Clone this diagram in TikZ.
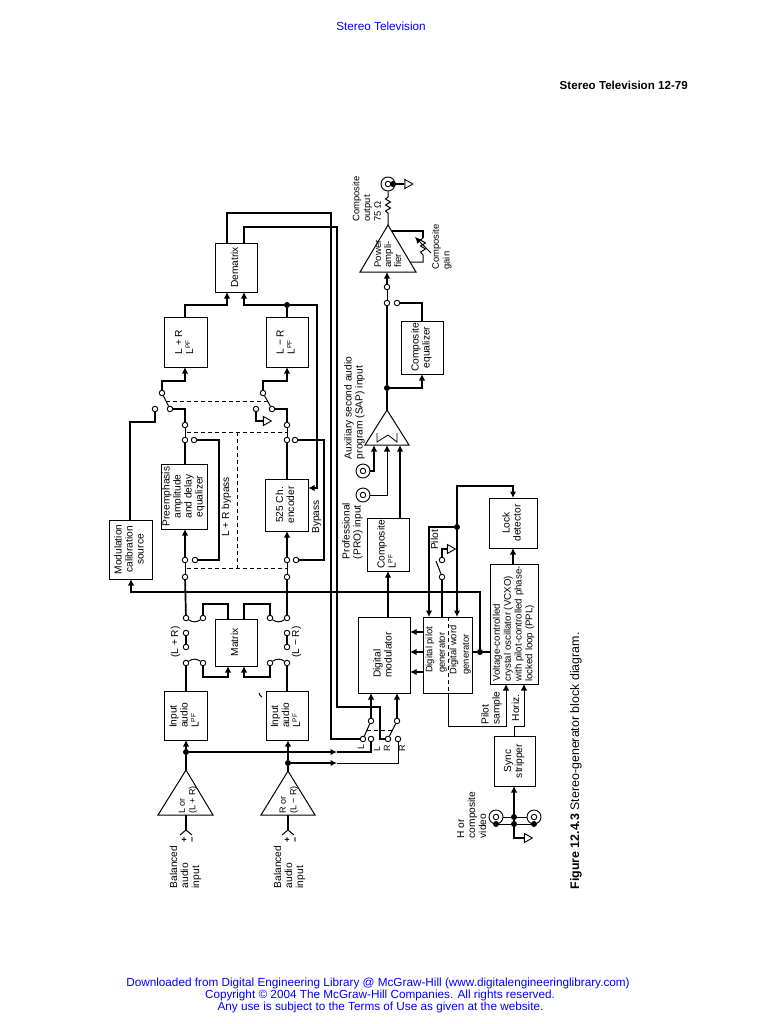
\documentclass[tikz,border=0pt]{standalone}
\usepackage{fontspec}
\usepackage{graphicx}
\setmainfont{Liberation Sans}
\usetikzlibrary{arrows.meta,shapes.geometric}
\definecolor{linkblue}{RGB}{0,0,255}
\newcommand{\rtc}[1]{\rotatebox{90}{\begin{tabular}{@{}c@{}}#1\end{tabular}}}
\newcommand{\rtl}[1]{\rotatebox{90}{\begin{tabular}{@{}l@{}}#1\end{tabular}}}
\newcommand{\lpf}{L\raisebox{3pt}{\fontsize{6.5}{6.5}\selectfont PF}}
\tikzset{
  wire/.style={line width=1.7pt,line join=miter},
  fine/.style={line width=1pt},
  head/.style={-{Latex[length=6.5pt,width=6.5pt]}},
  dashl/.style={line width=.8pt,dash pattern=on 4pt off 3pt},
  boxn/.style={draw,line width=1pt,inner sep=0pt,fill=white,font=\fontsize{10.2}{11}\selectfont},
  lab/.style={inner sep=0pt,font=\fontsize{10.2}{11}\selectfont},
  cc/.style={circle,draw,fill=white,line width=.9pt,inner sep=0pt,minimum size=5.5pt},
  dt/.style={circle,fill=black,inner sep=0pt,minimum size=6pt},
  coax/.style={circle,draw,fill=white,line width=.9pt,inner sep=0pt,minimum size=14pt},
  gnd/.style={isosceles triangle,isosceles triangle stretches=true,draw,fill=white,line width=.9pt,inner sep=0pt,minimum width=9pt,minimum height=8pt},
  amp/.style={line width=1pt,fill=white,line join=miter},
  page/.style={inner sep=0pt,text=linkblue,font=\fontsize{11.75}{12}\selectfont},
}
\begin{document}
\begin{tikzpicture}[x=1pt,y=-1pt]
\useasboundingbox[fill=white] (0,0) rectangle (759,1024);
% page furniture
\node[page] (hdr) at (381,26) {Stereo Television};
\node[inner sep=0pt,anchor=east,font=\fontsize{11.6}{12}\selectfont\bfseries] (pg) at (688,85) {Stereo Television 12-79};
\node[page] (f1) at (378,983) {Downloaded from Digital Engineering Library @ McGraw-Hill (www.digitalengineeringlibrary.com)};
\node[page] (f2) at (380,995) {Copyright © 2004 The McGraw-Hill Companies. All rights reserved.};
\node[page] (f3) at (380.5,1007) {Any use is subject to the Terms of Use as given at the website.};
\node[inner sep=0pt,font=\fontsize{12.4}{13}\selectfont] (cap) at (576,761) {\rotatebox{90}{\textbf{Figure 12.4.3} Stereo-generator block diagram.}};

% boxes
\node[boxn,minimum width=42pt,minimum height=49pt] (dem) at (236,267.5) {\rtc{Dematrix}};
\node[boxn,minimum width=43pt,minimum height=50pt] (lp) at (185.5,342) {\rtl{L + R\\\lpf}};
\node[boxn,minimum width=42pt,minimum height=50pt] (lm) at (287,342) {\rtl{L − R\\\lpf}};
\node[boxn,minimum width=43pt,minimum height=59pt] (mod) at (130.5,549.5) {\rtc{Modulation\\calibration\\source}};
\node[boxn,minimum width=46pt,minimum height=65pt] (pre) at (184,496.5) {\rtc{Preemphasis\\amplitude\\and delay\\equalizer}};
\node[boxn,minimum width=43pt,minimum height=52pt] (enc) at (286.5,505) {\rtc{525 Ch.\\encoder}};
\node[boxn,minimum width=42pt,minimum height=47pt] (mat) at (236,642.5) {\rtc{Matrix}};
\node[boxn,minimum width=43pt,minimum height=49pt] (in1) at (185.5,715.5) {\rtl{Input\\audio\\\lpf}};
\node[boxn,minimum width=42pt,minimum height=49pt] (in2) at (287,715.5) {\rtl{Input\\audio\\\lpf}};
\node[boxn,minimum width=42pt,minimum height=53pt] (eq) at (422,347.5) {\rtc{Composite\\equalizer}};
\node[boxn,minimum width=42pt,minimum height=53pt] (comp) at (388,544.5) {\rtl{Composite\\\lpf}};
\node[boxn,minimum width=52pt,minimum height=76pt] (dmod) at (384,655) {\rtl{Digital\\modulator}};
\node[boxn,minimum width=49pt,minimum height=76pt] (pil) at (447.5,655) {};
\node[boxn,font=\fontsize{9.7}{10.8}\selectfont,minimum width=48pt,minimum height=120pt] (vcxo) at (514,624) {\rtl{Voltage-controlled\\crystal oscillator (VCXO)\\with pilot-controlled phase-\\locked loop (PPL)}};
\node[boxn,minimum width=48pt,minimum height=50pt] (lock) at (513,523) {\rtc{Lock\\detector}};
\node[boxn,minimum width=41pt,minimum height=50pt] (sync) at (514.5,761) {\rtc{Sync\\stripper}};
\node[lab,font=\fontsize{9.4}{12.5}\selectfont] (t1) at (436,650) {\rtl{Digital pilot\\generator}};
\node[lab,font=\fontsize{9.4}{12.5}\selectfont] (t2) at (460,650) {\rtl{Digital word\\generator}};
\coordinate (pd1) at (448,617); \coordinate (pd2) at (448,693);
\draw[dashl] (pd1) -- (pd2);

% amplifier triangles
\coordinate (a1) at (186,770); \coordinate (a2) at (288,771); \coordinate (a3) at (387,410); \coordinate (a4) at (388,225);
\draw[amp] (a1) -- (158,815) -- (213,815) -- cycle;
\draw[amp] (a2) -- (261,815) -- (315,815) -- cycle;
\draw[amp] (a3) -- (365,445) -- (409,445) -- cycle;
\draw[amp] (a4) -- (360,272) -- (416,272) -- cycle;
\draw[line width=.8pt] (377,433) -- (377,442) -- (388,435) -- (397,442) -- (397,433);
\node[lab,font=\fontsize{9}{10.5}\selectfont] (t3) at (188,800) {\rtl{L or\\(L + R)}};
\node[lab,font=\fontsize{9}{10.5}\selectfont] (t4) at (289,800) {\rtl{R or\\(L − R)}};
\node[lab,font=\fontsize{9.6}{10}\selectfont] (t5) at (389,254) {\rtl{Power\\ampli-\\fier}};

% contacts
\node[cc] (c1) at (162,393) {}; \node[cc] (c2) at (155,409) {}; \node[cc] (c3) at (170,409) {};
\node[cc] (c4) at (185,425) {}; \node[cc] (c5) at (263,393) {}; \node[cc] (c6) at (256,409) {};
\node[cc] (c7) at (272,409) {}; \node[cc] (c8) at (287,425) {}; \node[cc] (c9) at (185,440) {};
\node[cc] (c10) at (194,440) {}; \node[cc] (c11) at (195,560) {}; \node[cc] (c12) at (185,560) {};
\node[cc] (c13) at (185,577) {}; \node[cc] (c14) at (186,618) {}; \node[cc] (c15) at (203,618) {};
\node[cc] (c16) at (270,618) {}; \node[cc] (c17) at (287,618) {}; \node[cc] (c18) at (287,577) {};
\node[cc] (c19) at (287,560) {}; \node[cc] (c20) at (296,560) {}; \node[cc] (c21) at (295,440) {};
\node[cc] (c22) at (287,440) {}; \node[cc] (c23) at (186,633) {}; \node[cc] (c24) at (186,647) {};
\node[cc] (c25) at (287,633) {}; \node[cc] (c26) at (287,647) {}; \node[cc] (c27) at (186,663) {};
\node[cc] (c28) at (203,663) {}; \node[cc] (c29) at (270,663) {}; \node[cc] (c30) at (287,663) {};
\node[cc] (sa) at (363,739) {}; \node[cc] (sb) at (371,739) {}; \node[cc] (sc) at (371,721) {};
\node[cc] (sd) at (388,739) {}; \node[cc] (se) at (398,739) {}; \node[cc] (sf) at (397,721) {};
\node[cc] (pa) at (442,577) {}; \node[cc] (pb) at (442,560) {};
\node[cc] (oa) at (387,303) {}; \node[cc] (ob) at (397,303) {}; \node[cc] (oc) at (387,287) {};

% dots
\node[dt] (d1) at (287,305) {}; \node[dt] (d2) at (186,752) {}; \node[dt] (d3) at (288,763) {};
\node[dt] (d4) at (480,652) {}; \node[dt] (d5) at (457,527) {}; \node[dt] (d6) at (387,388) {};
\node[dt] (d7) at (514,817) {}; \node[dt] (d8) at (514,824) {};

% grounds
\node[gnd] (g1) at (266,421) {}; \node[gnd] (g2) at (450,549) {};
\node[gnd] (g3) at (407.5,184) {}; \node[gnd] (g4) at (527,838) {};

% coax connectors
\node[coax] (k1) at (363,471) {}; \node[cc] (k1i) at (363,471) {};
\node[coax] (k2) at (363,495) {}; \node[cc] (k2i) at (363,495) {};
\node[coax] (k3) at (388,184) {}; \node[cc] (k3i) at (388,184) {};
\node[coax] (k4) at (496,817) {}; \node[cc] (k4i) at (496,817) {};
\node[coax] (k5) at (534,817) {}; \node[cc] (k5i) at (534,817) {};
\node[dt] (d9) at (393,184) {}; \node[dt] (d10) at (496,824) {}; \node[dt] (d11) at (534,824) {};

% box ports
\coordinate (demA) at (227,243); \coordinate (demB) at (244,243);
\coordinate (demC) at (227,292); \coordinate (demD) at (244,292);
\coordinate (lpT) at (185,317); \coordinate (lpB) at (185,367);
\coordinate (lmT) at (287,317); \coordinate (lmB) at (287,367);
\coordinate (modT) at (130,520); \coordinate (modB) at (131,579);
\coordinate (preT) at (185,464); \coordinate (preB) at (185,529);
\coordinate (encT) at (287,479); \coordinate (encB) at (287,531); \coordinate (encR) at (308,488);
\coordinate (matT1) at (228,619); \coordinate (matT2) at (244,619);
\coordinate (matB1) at (228,666); \coordinate (matB2) at (244,666);
\coordinate (in1T) at (186,691); \coordinate (in1B) at (186,740);
\coordinate (in2T) at (287,691); \coordinate (in2B) at (288,740);
\coordinate (eqT) at (422,321); \coordinate (eqB) at (422,374);
\coordinate (compT) at (400,518); \coordinate (compB) at (388,571);
\coordinate (dmT) at (388,617); \coordinate (dmB1) at (371,693); \coordinate (dmB2) at (397,693);
\coordinate (dmR1) at (410,632); \coordinate (dmR2) at (410,652); \coordinate (dmR3) at (410,672);
\coordinate (piL1) at (423,632); \coordinate (piL2) at (423,652); \coordinate (piL3) at (423,672);
\coordinate (piT1) at (429,617); \coordinate (piT2) at (442,617); \coordinate (piT3) at (457,617);
\coordinate (piR) at (472,652); \coordinate (piB) at (448,693);
\coordinate (vcL) at (490,652); \coordinate (vcT) at (513,564);
\coordinate (vcB1) at (506,684); \coordinate (vcB2) at (524,684);
\coordinate (lkT) at (513,498); \coordinate (lkB) at (513,548);
\coordinate (syT) at (514,736); \coordinate (syB) at (514,786);
\coordinate (s3b) at (374,445); \coordinate (s3c) at (387,445); \coordinate (s3d) at (400,445);
\coordinate (a4b) at (387,272);
\coordinate (b1) at (186,815); \coordinate (b2) at (288,815);
\coordinate (ch1) at (186,830); \coordinate (ch2) at (288,830);
\coordinate (m1) at (337,752); \coordinate (m2) at (337,763);

% long wires from dematrix
\draw[wire] (demA) -- (227,213) -- (331,213) -- (331,739) -- (sa);
\draw[wire] (demB) -- (244,227) -- (337,227) -- (337,707) -- (380,707) -- (380,739) -- (sd);
% LPF to dematrix
\draw[wire,head] (lpT) -- (185,305) -- (227,305) -- (demC);
\draw[wire] (lmT) -- (d1);
\draw[wire,head] (d1) -- (244,305) -- (demD);
\draw[wire,head] (d1) -- (317,305) -- (317,488) -- (encR);
% top switches
\draw[wire,head] (c1) -- (162,381) -- (185,381) -- (lpB);
\draw[fine] (c1) -- (c3);
\draw[wire] (c3) -- (185,409) -- (c4);
\draw[wire] (c2) -- (155,422) -- (130,422) -- (modT);
\draw[wire,head] (c5) -- (263,381) -- (287,381) -- (lmB);
\draw[fine] (c5) -- (c7);
\draw[wire] (c7) -- (287,409) -- (c8);
\draw[wire] (c6) -- (256,421) -- (g1.west);
\coordinate (q1) at (166,401); \coordinate (q2) at (267,401);
\draw[dashl] (q1) -- (q2);
% second switches
\draw[fine] (c4) -- (c9); \draw[fine] (c8) -- (c22);
\draw[wire] (c9) -- (preT);
\draw[wire] (c10) -- (219,440) -- (219,560) -- (c11);
\draw[wire,head] (c12) -- (preB);
\draw[fine] (c12) -- (c13);
\draw[wire] (c13) -- (c14);
\draw[fine] (c14) to[bend right=35] (c15);
\draw[wire] (c15) -- (203,604) -- (228,604) -- (matT1);
\draw[wire] (matT2) -- (244,604) -- (270,604) -- (c16);
\draw[fine] (c16) to[bend right=35] (c17);
\draw[wire] (c17) -- (c18);
\draw[fine] (c18) -- (c19);
\draw[wire,head] (c19) -- (encB);
\draw[wire] (c20) -- (324,560) -- (324,440) -- (c21);
\draw[wire] (c22) -- (encT);
\coordinate (q3) at (187,432); \coordinate (q4) at (287,432); \coordinate (q5) at (237,432);
\coordinate (q6) at (237,568); \coordinate (q7) at (187,568); \coordinate (q8) at (287,568);
\draw[dashl] (q3) -- (q4); \draw[dashl] (q5) -- (q6); \draw[dashl] (q7) -- (q8);
% matrix inputs
\draw[wire] (c23) -- (c24); \draw[wire] (c25) -- (c26);
\draw[fine] (c27) to[bend left=35] (c28);
\draw[fine] (c29) to[bend left=35] (c30);
\draw[wire] (c27) -- (in1T);
\draw[wire] (c30) -- (in2T);
\draw[wire,head] (c28) -- (203,677) -- (228,677) -- (matB1);
\draw[wire,head] (c29) -- (270,677) -- (244,677) -- (matB2);
% input amps
\draw[wire,head] (d2) -- (in1B);
\draw[wire] (a1) -- (d2);
\draw[wire] (a2) -- (d3);
\draw[wire,head] (d3) -- (in2B);
\draw[wire,head] (d2) -- (m1);
\draw[wire] (m1) -- (371,752) -- (sb);
\draw[wire,head] (d3) -- (m2);
\draw[fine] (m2) -- (398,763) -- (se);
\draw[wire] (b1) -- (ch1); \draw[wire] (b2) -- (ch2);
\draw[fine] (180,835) -- (ch1) -- (192,835);
\draw[fine] (282,835) -- (ch2) -- (294,835);
% L/R selector
\draw[fine] (sa) -- (sc); \draw[fine] (sd) -- (sf);
\draw[wire,head] (sc) -- (dmB1);
\draw[wire,head] (sf) -- (dmB2);
\coordinate (q9) at (367,730); \coordinate (q10) at (393,730);
\draw[dashl] (q9) -- (q10);
% digital section
\draw[wire,head] (piL1) -- (dmR1);
\draw[wire,head] (piL2) -- (dmR2);
\draw[wire,head] (piL3) -- (dmR3);
\draw[wire] (piR) -- (d4) -- (vcL);
\draw[wire,head] (d4) -- (480,592) -- (131,592) -- (modB);
\draw[fine,head] (piB) -- (448,726) -- (506,726) -- (vcB1);
\draw[fine,head] (syT) -- (514,726) -- (524,726) -- (vcB2);
\draw[wire,head] (vcT) -- (lkB);
\draw[wire,head] (d5) -- (457,486) -- (513,486) -- (lkT);
\draw[wire,head] (d5) -- (piT3);
\draw[wire,head] (d5) -- (429,527) -- (piT1);
\draw[wire] (pa) -- (piT2);
\draw[wire] (pb) -- (442,549) -- (g2.west);
\coordinate (q11) at (436,561); \coordinate (q12) at (441,574);
\draw[fine] (q11) -- (q12);
% sync
\draw[wire,head] (g4.west) -- (514,838) -- (syB);
\draw[fine] (k4) -- (d7) -- (k5);
\draw[fine] (d10) -- (d8) -- (d11);
% composite path
\draw[wire,head] (dmT) -- (compB);
\draw[wire,head] (compT) -- (s3d);
\draw[wire,head] (k1) -- (374,471) -- (s3b);
\draw[fine,head] (k2) -- (387,495) -- (s3c);
\draw[wire] (a3) -- (d6);
\draw[wire] (d6) -- (oa);
\draw[wire,head] (d6) -- (422,388) -- (eqB);
\draw[wire] (eqT) -- (422,303) -- (ob);
\draw[fine] (oa) -- (oc);
\draw[wire,head] (oc) -- (a4b);
% output
\draw[fine] (a4) -- (388,213) -- (385.5,211) -- (390.5,208) -- (385.5,205) -- (390.5,202) -- (385.5,199) -- (388,197) -- (k3);
\draw[wire] (d9) -- (g3.west);
\coordinate (gn1) at (391.5,231); \coordinate (gn2) at (410,262);
\draw[wire] (gn1) -- (423,231) -- (423,238);
\draw[fine] (423,238) -- (420.5,240) -- (425.5,243) -- (420.5,246) -- (425.5,249) -- (420.5,252) -- (423,255) -- (423,262) -- (gn2);
\coordinate (ar1) at (431,253); \coordinate (ar2) at (415,237);
\draw[fine,head] (ar1) -- (ar2);
\coordinate (st1) at (259,693); \coordinate (st2) at (262,697);
\draw[line width=1pt] (st1) to[bend right=25] (st2);

% labels
\node[lab] (t6) at (317,517) {\rtc{Bypass}};
\node[lab] (t7) at (227,507) {\rtc{L + R bypass}};
\node[lab] (t8) at (176,642) {\rtc{(L + R)}};
\node[lab] (t9) at (297,642) {\rtc{(L − R)}};
\node[lab] (t10) at (186,867) {\rtl{Balanced\\audio\\input}};
\node[lab] (t11) at (290,867) {\rtl{Balanced\\audio\\input}};
\node[lab,font=\fontsize{9}{10.5}\selectfont\bfseries] (t12) at (185,840) {\rtc{+}};
\node[lab,font=\fontsize{9}{10.5}\selectfont\bfseries] (t13) at (193,840) {\rtc{−}};
\node[lab,font=\fontsize{9}{10.5}\selectfont\bfseries] (t14) at (288,840) {\rtc{+}};
\node[lab,font=\fontsize{9}{10.5}\selectfont\bfseries] (t15) at (296,840) {\rtc{−}};
\node[lab,font=\fontsize{9.4}{10.8}\selectfont] (t16) at (368,199) {\rtl{Composite\\output\\75 Ω}};
\node[lab,font=\fontsize{9.4}{10.8}\selectfont] (t17) at (442,247) {\rtl{Composite\\gain}};
\node[lab] (t18) at (355,408) {\rtl{Auxiliary second audio\\program (SAP) input}};
\node[lab] (t19) at (353,531) {\rtl{Professional\\(PRO) input}};
\node[lab] (t20) at (436,540) {\rtc{Pilot}};
\node[lab] (t21) at (492,708) {\rtl{Pilot\\sample}};
\node[lab] (t22) at (517,708) {\rtc{Horiz.}};
\node[lab] (t23) at (473,815) {\rtl{H or\\composite\\video}};
\node[lab,font=\fontsize{9}{10}\selectfont] (t24) at (362,747) {\rtc{L}};
\node[lab,font=\fontsize{9}{10}\selectfont] (t25) at (378,749) {\rtc{L}};
\node[lab,font=\fontsize{9}{10}\selectfont] (t26) at (388,748) {\rtc{R}};
\node[lab,font=\fontsize{9}{10}\selectfont] (t27) at (403,748) {\rtc{R}};
\end{tikzpicture}
\end{document}
